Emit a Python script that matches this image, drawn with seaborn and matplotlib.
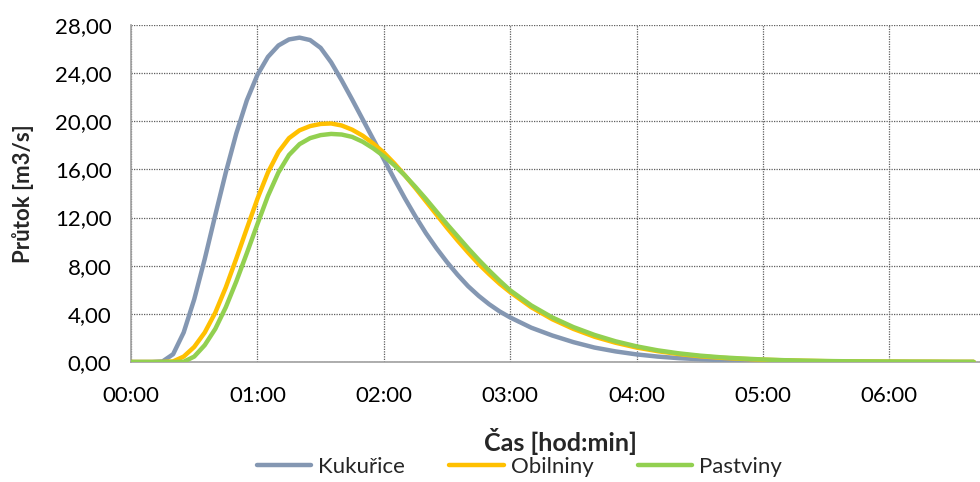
import seaborn as sns
import matplotlib.pyplot as plt
import matplotlib.ticker as mticker
from matplotlib.lines import Line2D
import pandas as pd

## A. (time in minutes, flow in m3/s)
cas_min = [0, 5, 10, 15, 20, 25, 30, 35, 40, 45, 50, 55, 60, 65, 70, 75, 80, 85, 90,
           95, 100, 105, 110, 115, 120, 125, 130, 135, 140, 145, 150, 155, 160, 165,
           170, 175, 180,
           190, 200, 210, 220, 230, 240, 250, 260, 270, 280, 290, 300, 310, 320, 330,
           340, 350, 360, 370, 380, 390, 400]

kukurice = [0, 0, 0, 0.05, 0.65, 2.45, 5.2, 8.55, 12.2, 15.75, 19.0, 21.75, 23.85, 25.35,
            26.3, 26.8, 26.95, 26.75, 26.1, 24.9, 23.4, 21.8, 20.15, 18.5, 16.85, 15.2,
            13.6, 12.1, 10.7, 9.45, 8.3, 7.25, 6.3, 5.5, 4.8, 4.2, 3.7,
            2.85, 2.2, 1.65, 1.2, 0.88, 0.63, 0.45, 0.32, 0.23, 0.16, 0.11, 0.08, 0.06,
            0.04, 0.03, 0.02, 0.015, 0.01, 0.01, 0.005, 0.0, 0.0]

obilniny = [0, 0, 0, 0, 0.05, 0.45, 1.25, 2.45, 4.1, 6.2, 8.6, 11.1, 13.55, 15.75, 17.45,
            18.6, 19.25, 19.6, 19.78, 19.82, 19.65, 19.3, 18.8, 18.15, 17.4, 16.5, 15.5,
            14.45, 13.35, 12.25, 11.15, 10.1, 9.1, 8.15, 7.3, 6.5, 5.8,
            4.55, 3.55, 2.75, 2.1, 1.6, 1.2, 0.9, 0.66, 0.48, 0.35, 0.26, 0.19, 0.14,
            0.1, 0.07, 0.05, 0.04, 0.03, 0.02, 0.02, 0.01, 0.01]

pastviny = [0, 0, 0, 0, 0, 0.02, 0.45, 1.4, 2.75, 4.55, 6.7, 9.05, 11.45, 13.8, 15.75,
            17.2, 18.1, 18.6, 18.85, 18.95, 18.9, 18.7, 18.3, 17.75, 17.1, 16.35, 15.5,
            14.55, 13.55, 12.5, 11.45, 10.45, 9.45, 8.5, 7.6, 6.75, 5.95,
            4.7, 3.7, 2.9, 2.25, 1.72, 1.3, 0.97, 0.72, 0.53, 0.39, 0.29, 0.21, 0.15,
            0.11, 0.08, 0.06, 0.045, 0.035, 0.025, 0.02, 0.015, 0.01]

nazvy = ["Kukuřice", "Obilniny", "Pastviny"]
barvy = ["#8497B2", "#FFC000", "#92D050"]

## B. Long table for seaborn
df = pd.concat([
    pd.DataFrame({"cas": cas_min, "prutok": vals, "plodina": name})
    for name, vals in zip(nazvy, [kukurice, obilniny, pastviny])
], ignore_index=True)

sns.set_style("white")
plt.rcParams['font.family'] = ['Lato', 'DejaVu Sans']

fig = plt.figure(figsize=(9.8, 4.82), dpi=100)
ax = fig.add_axes([131 / 980, 1 - 362 / 482, 1 - 131 / 980, 337 / 482])

sns.lineplot(data=df, x="cas", y="prutok", hue="plodina", hue_order=nazvy,
             palette=barvy, linewidth=3.2, legend=False, ax=ax, zorder=3,
             solid_joinstyle="round", solid_capstyle="round")

## C. Axes formatting
ax.set_xlim(0, 403)
ax.set_ylim(0, 28)
ax.set_xticks(range(0, 401, 60))
ax.xaxis.set_major_formatter(mticker.FuncFormatter(
    lambda v, p: "%02d:%02d" % (int(v) // 60, int(v) % 60)))
ax.set_yticks(range(0, 29, 4))
ax.yaxis.set_major_formatter(mticker.FuncFormatter(
    lambda v, p: ("%.2f" % v).replace(".", ",")))

ax.grid(True, color="#5e5e5e", linestyle=(0, (1, 1)), linewidth=0.9, zorder=0)
for s in ["top", "right"]:
    ax.spines[s].set_visible(False)
for s in ["left", "bottom"]:
    ax.spines[s].set_color("#a0a0a0")
    ax.spines[s].set_linewidth(1.2)
ax.tick_params(axis="both", which="major", length=6, width=1.2, color="#a0a0a0",
               labelsize=16, labelcolor="black", pad=8, direction="out")
ax.tick_params(axis="x", pad=11)

ax.set_xlabel("Čas [hod:min]", fontsize=18, fontweight="bold")
ax.set_ylabel("Průtok [m3/s]", fontsize=16, fontweight="bold")
ax.xaxis.set_label_coords(0.506, -0.237)
ax.xaxis.label.set_va("center")
ax.yaxis.set_label_coords(-0.127, 0.5)
ax.yaxis.label.set_va("center")

handles = [Line2D([0], [0], color=c, lw=3.2) for c in barvy]
fig.legend(handles, nazvy, loc="center", bbox_to_anchor=(0.53, 0.031), ncol=3,
           frameon=False, fontsize=16, handlelength=2.45, handletextpad=0.3,
           columnspacing=2.0)

plt.savefig("out.png", dpi=100)
